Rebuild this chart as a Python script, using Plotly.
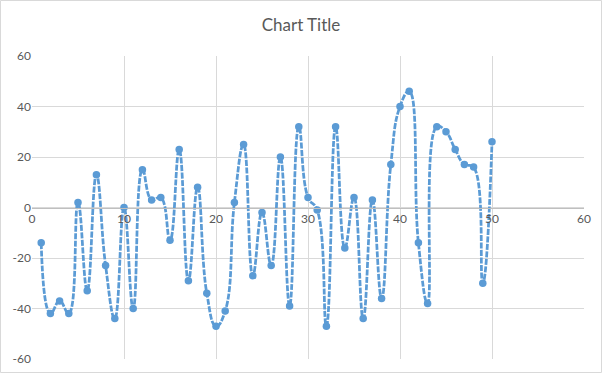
import plotly.graph_objects as go

x_vals = list(range(1, 51))
y_vals = [-14, -42, -37, -42, 2, -33, 13, -23, -44, 0,
          -40, 15, 3, 4, -13, 23, -29, 8, -34, -47,
          -41, 2, 25, -27, -2, -23, 20, -39, 32, 4,
          -1, -47, 32, -16, 4, -44, 3, -36, 17, 40,
          46, -14, -38, 32, 30, 23, 17, 16, -30, 26]
x_ticks = [0, 10, 20, 30, 40, 50, 60]
y_ticks = [-60, -40, -20, 0, 20, 40, 60]

W, H = 602, 373
L, R, T, B = 32, 18, 56, 14
pw, ph = W - L - R, H - T - B

color = "#5B9BD5"
fig = go.Figure()
fig.add_trace(go.Scatter(
    x=x_vals, y=y_vals, mode="lines+markers",
    line=dict(color=color, width=2.75, shape="spline", smoothing=1.3, dash="6px,1.5px"),
    marker=dict(color=color, size=7.5, line=dict(width=0)),
))

font = "Lato, 'Open Sans', sans-serif"
fig.update_layout(
    width=W, height=H,
    margin=dict(l=L, r=R, t=T, b=B, autoexpand=False),
    paper_bgcolor="white", plot_bgcolor="white",
    showlegend=False,
    title=dict(text="Chart Title", x=0.5, xanchor="center", y=1 - 25 / H, yanchor="middle",
               font=dict(family=font, size=17, color="#595959")),
    xaxis=dict(range=[0, 60], tickvals=x_ticks, ticktext=[str(v) for v in x_ticks],
               showgrid=True, gridcolor="#D9D9D9", gridwidth=1, automargin=False,
               zeroline=False, showline=True, linecolor="#BFBFBF", linewidth=1,
               anchor="free", position=0.5, ticks="",
               tickfont=dict(family=font, size=12, color="#595959")),
    yaxis=dict(range=[-60, 60], tickvals=y_ticks, ticktext=[str(v) for v in y_ticks],
               showgrid=True, gridcolor="#D9D9D9", gridwidth=1, automargin=False,
               zeroline=False, showline=False, ticks="",
               tickfont=dict(family=font, size=12, color="#595959")),
)
fig.add_shape(type="rect", xref="paper", yref="paper",
              x0=-(L - 0.5) / pw, x1=1 + (R - 0.5) / pw,
              y0=-(B - 0.5) / ph, y1=1 + (T - 0.5) / ph,
              line=dict(color="#D9D9D9", width=1), layer="below")
fig.write_html("out.html", config={"displayModeBar": False},
               post_script="document.body.style.margin='0';document.body.style.overflow='hidden';")
